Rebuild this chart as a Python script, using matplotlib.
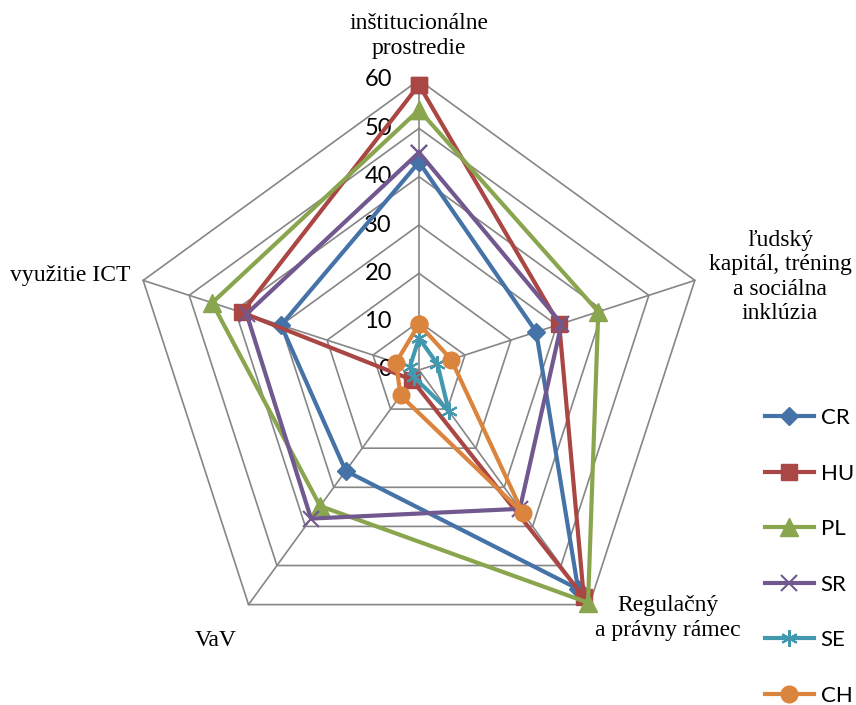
import numpy as np
import matplotlib.pyplot as plt
from matplotlib import transforms

# Categories (clockwise from the top)
categories = ["inštitucionálne\nprostredie",
              "ľudský\nkapitál, tréning\na sociálna\ninklúzia",
              "Regulačný\na právny rámec",
              "VaV",
              "využitie ICT"]

# Series values
CR = [43, 25.5, 56, 25.8, 30]
HU = [59, 30.5, 58, 2.5, 38.5]
PL = [53.8, 39, 59.5, 34.8, 45]
SR = [45, 31, 35.5, 38, 37.5]
SE = [6.6, 4, 10.5, 1.8, 2]
CH = [9.5, 7, 36.5, 6.5, 5]

series_names = ["CR", "HU", "PL", "SR", "SE", "CH"]
series_values = [CR, HU, PL, SR, SE, CH]
colors = ["#4572A7", "#AA4643", "#89A54E", "#71588F", "#4198AF", "#DB843D"]
markers = ["D", "s", "^", "x", (6, 2, 0), "o"]
msizes = [9, 12, 13, 12, 12, 12]

ticks = [0, 10, 20, 30, 40, 50, 60]

n = len(categories)
theta = np.arange(n) * 2 * np.pi / n
theta_c = np.append(theta, theta[0])

fig = plt.figure(figsize=(8.56, 7.05), dpi=100)
cx, cy, R = 419, 370, 290
ax = fig.add_axes([(cx - R) / 856, (705 - cy - R) / 705, 2 * R / 856, 2 * R / 705],
                  projection="polar")
ax.set_theta_offset(np.pi / 2)
ax.set_theta_direction(-1)
ax.set_ylim(0, 60)
ax.grid(False)
ax.set_xticks([])
ax.set_yticks([])
ax.spines["polar"].set_visible(False)
ax.patch.set_visible(False)

grid_col = "#868686"
# pentagon rings
for t in ticks[1:]:
    ax.plot(theta_c, [t] * (n + 1), color=grid_col, lw=1.2, zorder=1, clip_on=False)
# spokes
for th in theta:
    ax.plot([th, th], [0, 60], color=grid_col, lw=1.2, zorder=1, clip_on=False)

# tick labels left of the top spoke
off = transforms.offset_copy(ax.transData, fig=fig, x=-27, y=0, units="dots")
for t in ticks:
    ax.text(0, t, str(t), transform=off, ha="right", va="center",
            fontsize=17, family="Lato", color="black")

# series
for name, vals, c, m, ms in zip(series_names, series_values, colors, markers, msizes):
    v = np.append(vals, vals[0])
    mew = 1.5 if m in ("x", (6, 2, 0)) else 1
    ax.plot(theta_c, v, color=c, lw=3, marker=m, markersize=ms,
            markeredgecolor=c, markerfacecolor=c, markeredgewidth=mew,
            label=name, zorder=3, clip_on=False)

# category labels
label_pos = [(419, 36), (780, 277), (668, 618), (216, 640), (70, 276)]
for txt, (px, py) in zip(categories, label_pos):
    fig.text(px / 856, 1 - py / 705, txt, ha="center", va="center",
             fontsize=17, family="Liberation Serif", linespacing=1.2)

leg = fig.legend(loc="upper left", bbox_to_anchor=(765 / 856, 1 - 408 / 705),
                 frameon=False, prop={"family": "Lato", "size": 16},
                 handlelength=2.2, handletextpad=0.3, labelspacing=1.6,
                 borderpad=0, borderaxespad=0)

fig.savefig("out.png", dpi=100)
